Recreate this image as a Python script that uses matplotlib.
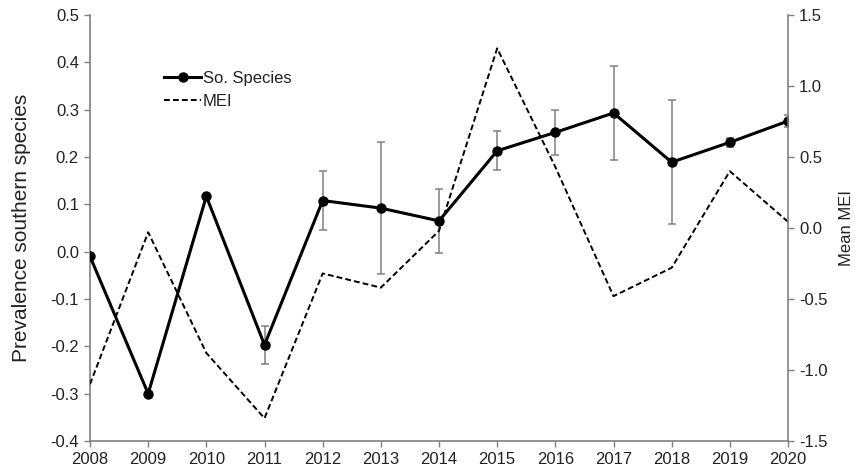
import matplotlib
matplotlib.use("Agg")
import matplotlib.pyplot as plt

years = [2008, 2009, 2010, 2011, 2012, 2013, 2014, 2015, 2016, 2017, 2018, 2019, 2020]
species = [-0.01, -0.30, 0.117, -0.197, 0.108, 0.092, 0.065, 0.213, 0.252, 0.293, 0.189, 0.231, 0.276]
species_err = [0.0, 0.0, 0.0, 0.04, 0.062, 0.14, 0.067, 0.041, 0.048, 0.10, 0.131, 0.01, 0.012]
mei = [-1.10, -0.03, -0.88, -1.34, -0.32, -0.42, -0.02, 1.265, 0.43, -0.48, -0.28, 0.40, 0.044]

left_ticks = [0.5, 0.4, 0.3, 0.2, 0.1, 0.0, -0.1, -0.2, -0.3, -0.4]
right_ticks = [1.5, 1.0, 0.5, 0.0, -0.5, -1.0, -1.5]

plt.rcParams['font.family'] = ['Liberation Sans', 'DejaVu Sans']
gray = '#808080'
txt = '#222222'

fig = plt.figure(figsize=(8.55, 4.73), dpi=100)
ax = fig.add_axes([90/855, 1-441/473, (788-90)/855, (441-15)/473])
ax2 = ax.twinx()

ax.errorbar(years, species, yerr=species_err, fmt='none', ecolor=gray,
            elinewidth=1.1, capsize=3, capthick=1.1, zorder=2)
l1, = ax.plot(years, species, color='black', lw=2.2, marker='o', markersize=6.5,
              label='So. Species', zorder=3)
l2, = ax2.plot(years, mei, color='black', lw=1.4, ls=(0, (3, 1.6)), label='MEI')

ax.set_xlim(2008, 2020)
ax.set_ylim(-0.4, 0.5)
ax2.set_ylim(-1.5, 1.5)
ax.set_xticks(years)
ax.set_yticks(left_ticks)
ax.set_yticklabels([f'{v:.1f}' for v in left_ticks])
ax2.set_yticks(right_ticks)
ax2.set_yticklabels([f'{v:.1f}' for v in right_ticks])

for a in (ax, ax2):
    a.spines['top'].set_visible(False)
    for s in ('left', 'right', 'bottom'):
        a.spines[s].set_color(gray)
        a.spines[s].set_linewidth(1.2)
    a.tick_params(direction='out', length=4, width=1.0, color=gray,
                  labelsize=12, labelcolor=txt, pad=4)
ax.spines['right'].set_visible(False)
ax2.spines['left'].set_visible(False)
ax2.spines['bottom'].set_visible(False)

ax.set_ylabel('Prevalence southern species', fontsize=15, color=txt)
ax.yaxis.set_label_coords(-0.085, 0.5)
ax2.set_ylabel('Mean MEI', fontsize=12, color=txt, labelpad=8)

leg = ax.legend(handles=[l1, l2], loc='upper left', bbox_to_anchor=(0.097, 0.885),
                frameon=False, fontsize=12, handlelength=2.2, handletextpad=0.1,
                labelspacing=0.5, borderaxespad=0)
for t in leg.get_texts():
    t.set_color(txt)

fig.savefig('out.png', dpi=100)
